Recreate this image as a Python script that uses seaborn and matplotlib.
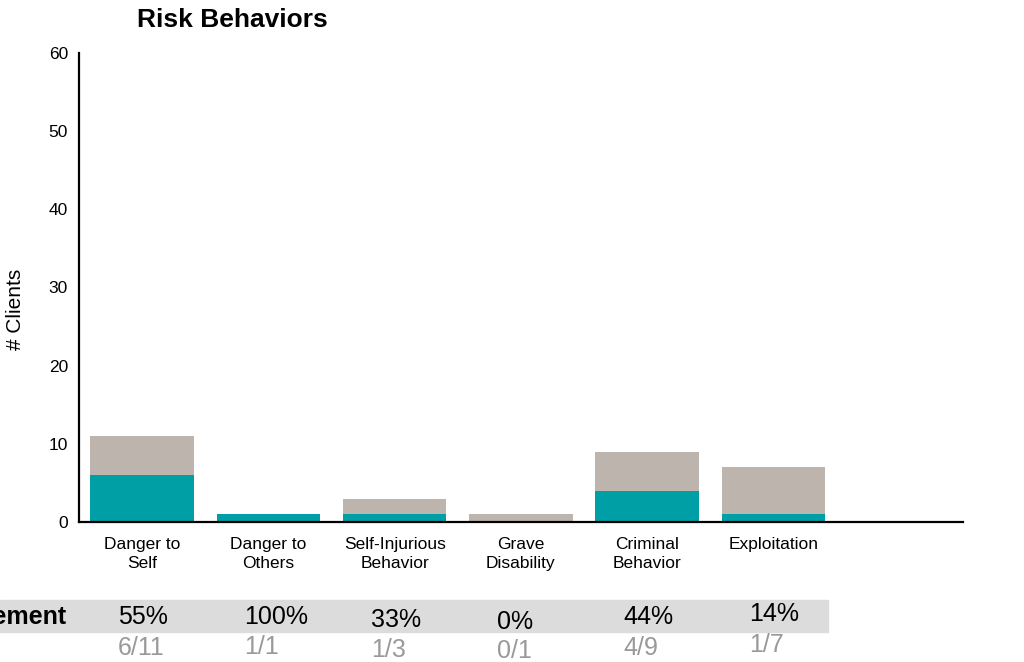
import matplotlib
matplotlib.use('Agg')
import matplotlib.pyplot as plt
import numpy as np
import pandas as pd
import seaborn as sns

# data
categories = ['Danger to\nSelf', 'Danger to\nOthers', 'Self-Injurious\nBehavior',
              'Grave\nDisability', 'Criminal\nBehavior', 'Exploitation']
total_clients = [11, 1, 3, 1, 9, 7]
improved_clients = [6, 1, 1, 0, 4, 1]

TEAL = '#009fa5'
TAUPE = '#bdb4ae'

sns.set_theme(style='white')
plt.rcParams['font.family'] = ['Liberation Sans', 'DejaVu Sans']

df = pd.DataFrame({'category': categories,
                   'total': total_clients,
                   'improved': improved_clients})

fig = plt.figure(figsize=(10.24, 6.62), dpi=100)
ax = fig.add_axes([0.0772, 0.2115, 0.863, 0.7085])

sns.barplot(data=df, x='category', y='total', color=TAUPE, width=0.82,
            saturation=1, linewidth=0, ax=ax)
sns.barplot(data=df, x='category', y='improved', color=TEAL, width=0.82,
            saturation=1, linewidth=0, ax=ax)

ax.set_xlim(-0.5, 6.5)
ax.set_ylim(0, 60)
ax.set_yticks([0, 10, 20, 30, 40, 50, 60])
ax.set_xlabel('')
ax.set_ylabel('')
ax.tick_params(axis='x', length=0, pad=11, labelsize=12.5, colors='black')
ax.tick_params(axis='y', length=0, pad=8, labelsize=12.5, colors='black')
for lbl in ax.get_xticklabels():
    lbl.set_linespacing(1.35)
for side in ['top', 'right']:
    ax.spines[side].set_visible(False)
for side in ['left', 'bottom']:
    ax.spines[side].set_color('black')
    ax.spines[side].set_linewidth(1.6)

fig.text(0.2266, 0.959, 'Risk Behaviors', ha='center', va='baseline',
         fontsize=19, fontweight='bold', color='black')
fig.text(0.015, 0.532, '# Clients', ha='center', va='center',
         rotation=90, fontsize=15, color='black')

# summary band under the chart
band = matplotlib.patches.Rectangle((0, 0.0453), 0.8086, 0.0483,
                                    transform=fig.transFigure,
                                    color='#dcdcdc', zorder=-5)
fig.patches.append(band)
fig.text(0.0654, 0.0574, 'Improvement', ha='right', va='baseline',
         fontsize=18, fontweight='bold', color='black', zorder=5)

pct_dy = [0, 0, -3, -5, 0, 3]
frac_dy = [0, 1, -2, -3, 0, 3]
trans = matplotlib.transforms.blended_transform_factory(ax.transData, fig.transFigure)
for i, (t, m) in enumerate(zip(total_clients, improved_clients)):
    pct = int(round(100 * m / t))
    fig.text(i - 0.19, 0.0574 + pct_dy[i] / 662, f'{pct}%', transform=trans,
             ha='left', va='baseline', fontsize=18, color='black', zorder=5)
    fig.text(i - 0.19, 0.0106 + frac_dy[i] / 662, f'{m}/{t}', transform=trans,
             ha='left', va='baseline', fontsize=18, color='#999999', zorder=5)

fig.savefig('out.png', dpi=100)
